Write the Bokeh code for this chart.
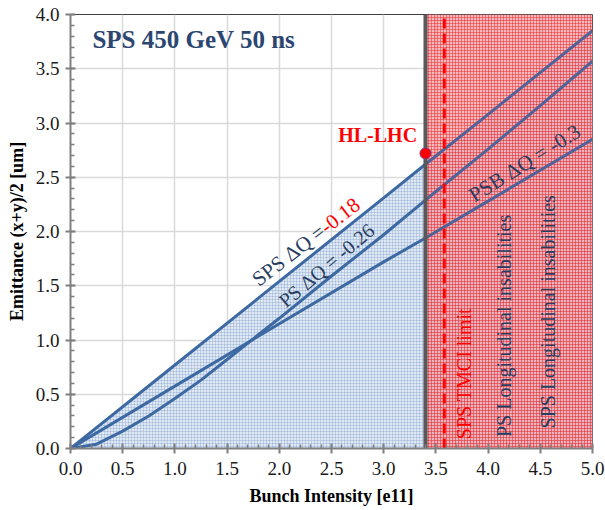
import numpy as np
from bokeh.plotting import figure
from bokeh.models import Range1d, FixedTicker, PrintfTickFormatter
from bokeh.core.properties import value
from bokeh.embed import file_html
from bokeh.resources import INLINE

# ---------------- data ----------------
sps_x = [0.0, 1.0, 2.0, 3.0, 3.4, 4.0, 5.0]
sps_y = [0.0, 0.77, 1.54, 2.31, 2.62, 3.08, 3.85]

ps_x = [0.0, 0.25, 0.5, 0.75, 1.0, 1.25, 1.5, 1.75, 2.0, 2.5, 3.0, 3.4, 4.0, 4.5, 5.0]
ps_y = [0.0, 0.04, 0.16, 0.30, 0.46, 0.63, 0.82, 1.01, 1.20, 1.59, 1.97, 2.29, 2.76, 3.16, 3.57]

psb_x = [0.0, 1.0, 2.0, 3.0, 3.4, 4.0, 5.0]
psb_y = [0.0, 0.575, 1.15, 1.72, 1.94, 2.28, 2.85]

hl_lhc_intensity = 3.4
hl_lhc_emittance = 2.72
tmci_limit = 3.58
x_max = 5.0
y_max = 4.0

x_ticks = [0.0, 0.5, 1.0, 1.5, 2.0, 2.5, 3.0, 3.5, 4.0, 4.5, 5.0]
y_ticks = [0.0, 0.5, 1.0, 1.5, 2.0, 2.5, 3.0, 3.5, 4.0]

LINE = "#3D69A3"
DARK = "#2B4670"
TXT = "#283D60"
RED = "#FF0000"
SERIF = "Liberation Serif"

p = figure(width=605, height=510, output_backend="svg", toolbar_location=None,
           x_range=Range1d(0, x_max), y_range=Range1d(0, y_max),
           min_border_left=70, min_border_right=13, min_border_top=14, min_border_bottom=62)
p.background_fill_color = "white"
p.border_fill_color = "white"
p.outline_line_color = "#404040"
p.outline_line_width = 1

# grid
for g in (p.xgrid, p.ygrid):
    g.grid_line_color = "#D9D9D9"
    g.grid_line_width = 1.5
p.xgrid.ticker = FixedTicker(ticks=x_ticks)
p.ygrid.ticker = FixedTicker(ticks=y_ticks)

# axes
minor_x = [round(0.1 * i, 1) for i in range(0, 51)]
minor_y = [round(0.1 * i, 1) for i in range(0, 41)]
p.xaxis.ticker = FixedTicker(ticks=x_ticks, minor_ticks=minor_x)
p.yaxis.ticker = FixedTicker(ticks=y_ticks, minor_ticks=minor_y)
for ax in (p.xaxis, p.yaxis):
    ax.formatter = PrintfTickFormatter(format="%.1f")
    ax.axis_line_color = "#808080"
    ax.axis_line_width = 2
    ax.major_tick_line_color = "#808080"
    ax.major_tick_line_width = 2
    ax.major_tick_in = 5
    ax.major_tick_out = 5
    ax.minor_tick_line_color = "#808080"
    ax.minor_tick_line_width = 1.5
    ax.minor_tick_in = 4
    ax.minor_tick_out = 0
    ax.major_label_text_font = SERIF
    ax.major_label_text_font_size = "19px"
    ax.major_label_text_color = "#1A1A1A"
    ax.axis_label_text_font = SERIF
    ax.axis_label_text_font_style = "bold"
    ax.axis_label_text_font_size = "18px"
    ax.axis_label_text_color = "#000000"
p.xaxis.axis_label = "Bunch Intensity [e11]"
p.yaxis.axis_label = "Emittance (x+y)/2 [um]"
p.xaxis.major_label_standoff = 8
p.yaxis.major_label_standoff = 6
p.xaxis.axis_label_standoff = 8
p.yaxis.axis_label_standoff = 6

# blue hatched area under SPS line
p.varea(x=sps_x, y1=[0] * len(sps_x), y2=sps_y,
        fill_color="#DCE6F4", fill_alpha=0.9,
        hatch_pattern="cross", hatch_color="#6F8FC0", hatch_alpha=0.5,
        hatch_scale=3, hatch_weight=0.6)

# red hatched region (under curves)
p.quad(left=[hl_lhc_intensity], right=[x_max], bottom=[0], top=[y_max],
       fill_color="#F4B0B6", fill_alpha=0.65,
       hatch_pattern="cross", hatch_color="#EE1010", hatch_alpha=0.55,
       hatch_scale=3, hatch_weight=0.8, line_color=None)

# curves
p.line(sps_x, sps_y, line_color=LINE, line_width=3)
p.line(ps_x, ps_y, line_color=LINE, line_width=3)
p.line(psb_x, psb_y, line_color=LINE, line_width=3)

# light red tint over curves in the red region
p.quad(left=[hl_lhc_intensity], right=[x_max], bottom=[0], top=[y_max],
       fill_color="#E03040", fill_alpha=0.12, line_color=None)

# vertical gray line at HL-LHC intensity
p.segment(x0=[hl_lhc_intensity], y0=[0], x1=[hl_lhc_intensity], y1=[y_max],
          line_color="#595959", line_width=4)
# TMCI dashed line
p.segment(x0=[tmci_limit], y0=[0], x1=[tmci_limit], y1=[y_max],
          line_color=RED, line_width=3, line_dash="10 5")

# HL-LHC point
p.scatter([hl_lhc_intensity], [hl_lhc_emittance], size=11, fill_color=RED,
          line_color="#7A3C8C", line_width=1)

font = value(SERIF)
# title text
p.text(x=[0.21], y=[3.77], text=["SPS 450  GeV 50 ns"], text_font=font,
       text_font_style="bold", text_font_size="25px", text_color=DARK,
       text_align="left", text_baseline="middle")
p.text(x=[3.32], y=[2.89], text=["HL-LHC"], text_font=font,
       text_font_style="bold", text_font_size="20px", text_color=RED,
       text_align="right", text_baseline="middle")

# rotated labels along curves
a1 = 0.658
p.text(x=[2.416], y=[2.024], text=["SPS \u0394Q ="], text_font=font,
       text_font_size="21px", text_color=TXT, angle=a1,
       text_align="right", text_baseline="middle")
p.text(x=[2.416], y=[2.024], text=[" -0.18"], text_font=font,
       text_font_size="21px", text_color=RED, angle=a1,
       text_align="left", text_baseline="middle")
p.text(x=[2.452], y=[1.688], text=["PS \u0394Q = -0.26"], text_font=font,
       text_font_size="20px", text_color=TXT, angle=0.70,
       text_align="center", text_baseline="middle")
p.text(x=[4.35], y=[2.63], text=["PSB \u0394Q = -0.3"], text_font=font,
       text_font_size="21px", text_color=TXT, angle=0.56,
       text_align="center", text_baseline="middle")

# vertical labels
p.text(x=[3.77], y=[0.69], text=["SPS TMCI limit"], text_font=font,
       text_font_size="20px", text_color=RED, angle=np.pi / 2,
       text_align="center", text_baseline="middle")
p.text(x=[4.155], y=[1.13], text=["PS Longitudinal insabilities"], text_font=font,
       text_font_size="20px", text_color=TXT, angle=np.pi / 2,
       text_align="center", text_baseline="middle")
p.text(x=[4.578], y=[1.26], text=["SPS Longitudinal insabilities"], text_font=font,
       text_font_size="20px", text_color=TXT, angle=np.pi / 2,
       text_align="center", text_baseline="middle")

open("out.html", "w").write(file_html(p, INLINE))
